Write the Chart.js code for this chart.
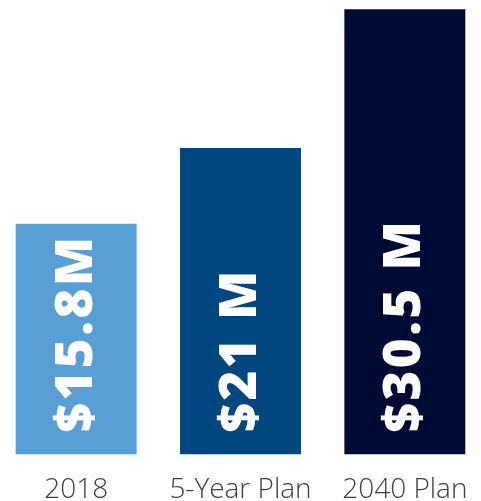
<!DOCTYPE html>
<html lang="en">
<head>
  <meta charset="UTF-8" />
  <title>Funding by Plan</title>
  <script src="https://cdn.jsdelivr.net/npm/chart.js"></script>
  <style>
    html, body { margin:0; padding:0; background:#fff; overflow:hidden; }
    .chart-box { position:absolute; left:-6px; top:0; width:493px; height:501px; }
  </style>
</head>
<body>
<div class="chart-box"><canvas id="fundChart"></canvas></div>

<script>
  /* ---------- data ---------- */
  const categories  = ['2018', '5-Year Plan', '2040 Plan'];
  const fundingM    = [15.8, 21, 30.5];
  const valueLabels = ['$15.8M', '$21 M', '$30.5 M'];
  const barColors   = ['#589FD5', '#00467F', '#000B35'];

  /* white value text, rotated, sitting at the foot of each bar */
  const barText = {
    id: 'barText',
    afterDatasetsDraw(chart) {
      const ctx = chart.ctx;
      chart.getDatasetMeta(0).data.forEach((bar, i) => {
        ctx.save();
        ctx.translate(bar.x + 1, bar.base - 22);
        ctx.rotate(-Math.PI / 2);
        ctx.fillStyle = '#fff';
        ctx.font = '800 51px "Open Sans"';
        ctx.letterSpacing = '2.5px';
        ctx.textAlign = 'left';
        ctx.textBaseline = 'middle';
        ctx.fillText(valueLabels[i], 0, 0);
        ctx.restore();
      });
    }
  };

  new Chart(document.getElementById('fundChart'), {
    type: 'bar',
    data: {
      labels: categories,
      datasets: [{ data: fundingM, backgroundColor: barColors,
                   barPercentage: 0.736, categoryPercentage: 1 }]
    },
    options: {
      responsive: true, maintainAspectRatio: false, animation: false,
      layout: { padding: { top: 2, left: 0, right: 0, bottom: 0 } },
      plugins: { legend: { display: false }, tooltip: { enabled: false } },
      scales: {
        y: { display: false, min: 0, max: 31 },
        x: {
          grid: { display: false }, border: { display: false },
          ticks: { color: '#3f3f3f', padding: 11,
                   font: { family: 'Open Sans', weight: '300', size: 28 } },
          afterFit: s => { s.height = 46.5; }
        }
      }
    },
    plugins: [barText]
  });
</script>
</body>
</html>
